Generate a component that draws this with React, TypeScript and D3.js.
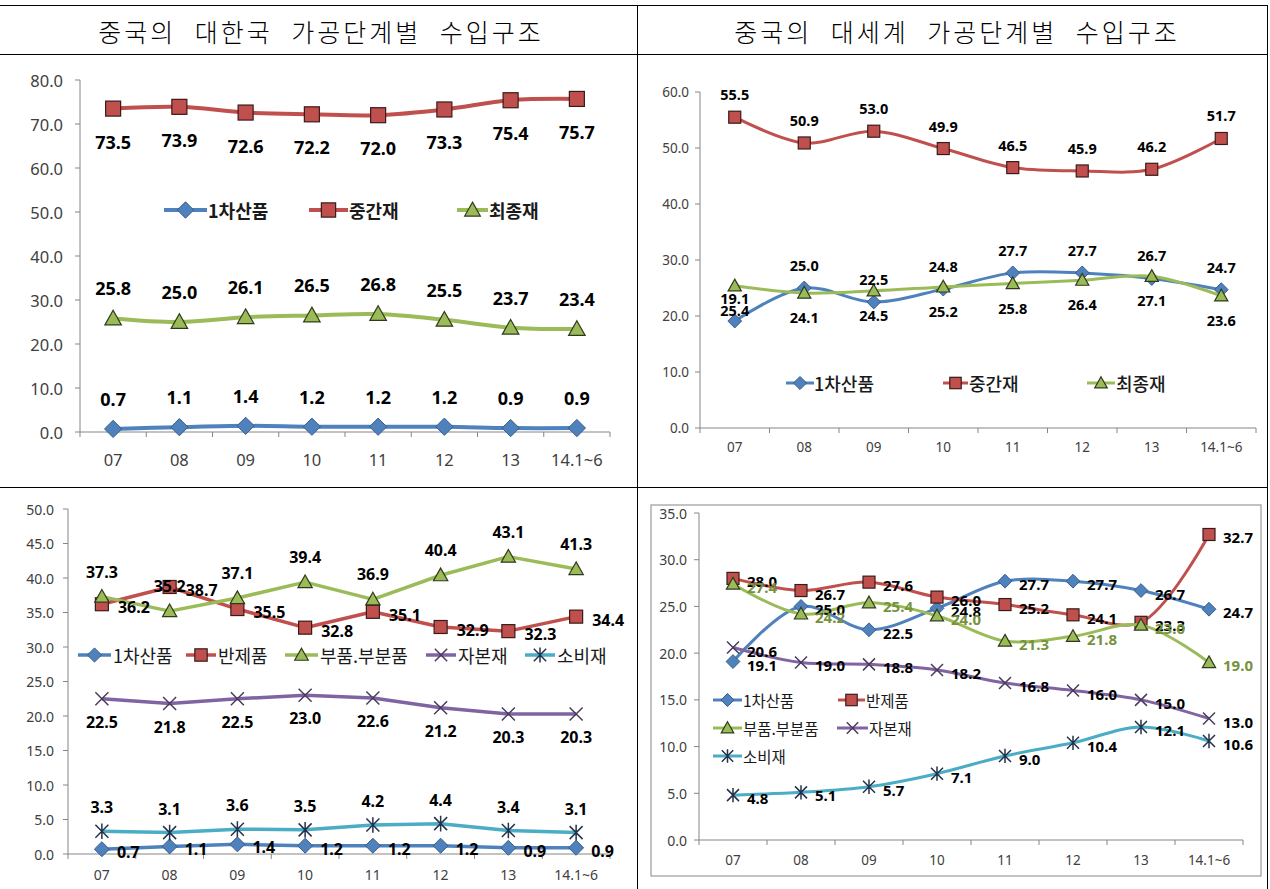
import * as d3 from 'd3'

const years = ['07', '08', '09', '10', '11', '12', '13', '14.1~6']

const titleKorea = '중국의 대한국 가공단계별 수입구조'
const titleWorld = '중국의 대세계 가공단계별 수입구조'

// 3분류: 대한국
const krPrimary = [0.7, 1.1, 1.4, 1.2, 1.2, 1.2, 0.9, 0.9]
const krIntermediate = [73.5, 73.9, 72.6, 72.2, 72.0, 73.3, 75.4, 75.7]
const krFinal = [25.8, 25.0, 26.1, 26.5, 26.8, 25.5, 23.7, 23.4]

// 3분류: 대세계
const wPrimary = [19.1, 25.0, 22.5, 24.8, 27.7, 27.7, 26.7, 24.7]
const wIntermediate = [55.5, 50.9, 53.0, 49.9, 46.5, 45.9, 46.2, 51.7]
const wFinal = [25.4, 24.1, 24.5, 25.2, 25.8, 26.4, 27.1, 23.6]

// 5분류: 대한국
const krDetPrimary = [0.7, 1.1, 1.4, 1.2, 1.2, 1.2, 0.9, 0.9]
const krSemi = [36.2, 38.7, 35.5, 32.8, 35.1, 32.9, 32.3, 34.4]
const krParts = [37.3, 35.2, 37.1, 39.4, 36.9, 40.4, 43.1, 41.3]
const krCapital = [22.5, 21.8, 22.5, 23.0, 22.6, 21.2, 20.3, 20.3]
const krConsumer = [3.3, 3.1, 3.6, 3.5, 4.2, 4.4, 3.4, 3.1]

// 5분류: 대세계
const wDetPrimary = [19.1, 25.0, 22.5, 24.8, 27.7, 27.7, 26.7, 24.7]
const wSemi = [28.0, 26.7, 27.6, 26.0, 25.2, 24.1, 23.3, 32.7]
const wParts = [27.4, 24.2, 25.4, 24.0, 21.3, 21.8, 23.0, 19.0]
const wCapital = [20.6, 19.0, 18.8, 18.2, 16.8, 16.0, 15.0, 13.0]
const wConsumer = [4.8, 5.1, 5.7, 7.1, 9.0, 10.4, 12.1, 10.6]

// y tick labels
const ticksKr3 = [0, 10, 20, 30, 40, 50, 60, 70, 80]
const ticksW3 = [0, 10, 20, 30, 40, 50, 60]
const ticksKr5 = [0, 5, 10, 15, 20, 25, 30, 35, 40, 45, 50]
const ticksW5 = [0, 5, 10, 15, 20, 25, 30, 35]

const BLUE = '#4F81BD'
const RED = '#C0504D'
const GREEN = '#9BBB59'
const PURPLE = '#8064A2'
const CYAN = '#4BACC6'
const AXIS = '#868686'

const SANS = '"Noto Sans", "Noto Sans CJK KR", sans-serif'
const KR = '"Noto Sans CJK KR", "Noto Sans", sans-serif'

type MarkerKind = 'diamond' | 'square' | 'triangle' | 'cross' | 'star'
type LabelPos = 'above' | 'below' | 'right'

interface SeriesDef {
  name: string
  values: number[]
  color: string
  edge: string
  marker: MarkerKind
  label: LabelPos
  gap: number
  labelColor?: string
}

interface LegendItem {
  x1: number
  x2: number
  tx: number
  y: number
}

interface PanelCfg {
  left: number
  right: number
  top: number
  bottom: number
  ticks: number[]
  tickFont: number
  tickGap: number
  xFont: number
  xLabelDy: number
  labelFont: number
  lineWidth: number
  markerSize: number
  smooth: boolean
  legendFont: number
  legendWeight: number
  legend: LegendItem[]
  box?: { x: number; y: number; w: number; h: number }
}

const fmt = d3.format('.1f')

function Marker({ kind, x, y, size, fill, edge }: { kind: MarkerKind; x: number; y: number; size: number; fill: string; edge: string }) {
  const h = size / 2
  switch (kind) {
    case 'diamond': {
      const r = h * 1.15
      return <path d={`M${x},${y - r}L${x + r},${y}L${x},${y + r}L${x - r},${y}Z`} fill={fill} stroke={edge} strokeWidth={1} />
    }
    case 'square':
      return <rect x={x - h} y={y - h} width={size} height={size} fill={fill} stroke={edge} strokeWidth={1.2} />
    case 'triangle':
      return <path d={`M${x},${y - h * 1.1}L${x + h * 1.1},${y + h * 0.85}L${x - h * 1.1},${y + h * 0.85}Z`} fill={fill} stroke={edge} strokeWidth={1.2} />
    case 'cross':
      return <path d={`M${x - h},${y - h}L${x + h},${y + h}M${x - h},${y + h}L${x + h},${y - h}`} stroke={edge} strokeWidth={1.5} fill="none" />
    case 'star':
      return <path d={`M${x - h},${y - h}L${x + h},${y + h}M${x - h},${y + h}L${x + h},${y - h}M${x},${y - h * 1.2}L${x},${y + h * 1.2}`} stroke={edge} strokeWidth={1.5} fill="none" />
  }
}

function Panel({ cfg, series }: { cfg: PanelCfg; series: SeriesDef[] }) {
  const x = d3.scaleBand<string>().domain(years).range([cfg.left, cfg.right])
  const y = d3
    .scaleLinear()
    .domain([0, cfg.ticks[cfg.ticks.length - 1]])
    .range([cfg.bottom, cfg.top])
  const cx = (i: number) => (x(years[i]) ?? 0) + x.bandwidth() / 2
  const line = d3
    .line<number>()
    .x((_, i) => cx(i))
    .y(v => y(v))
    .curve(cfg.smooth ? d3.curveCatmullRom.alpha(0.5) : d3.curveLinear)

  const bounds = [...years.map(c => x(c) ?? 0), cfg.right]

  return (
    <g>
      {cfg.box && (
        <rect x={cfg.box.x} y={cfg.box.y} width={cfg.box.w} height={cfg.box.h} fill="none" stroke={AXIS} strokeWidth={1} />
      )}

      {/* y axis */}
      <line x1={cfg.left} x2={cfg.left} y1={cfg.top} y2={cfg.bottom} stroke={AXIS} />
      {cfg.ticks.map(t => (
        <g key={t}>
          <line x1={cfg.left - 5} x2={cfg.left} y1={y(t)} y2={y(t)} stroke={AXIS} />
          <text
            x={cfg.left - cfg.tickGap}
            y={y(t)}
            textAnchor="end"
            dominantBaseline="central"
            fontFamily={SANS}
            fontSize={cfg.tickFont}
            fill="#404040"
          >
            {fmt(t)}
          </text>
        </g>
      ))}

      {/* x axis */}
      <line x1={cfg.left} x2={cfg.right} y1={cfg.bottom} y2={cfg.bottom} stroke={AXIS} />
      {bounds.map((b, i) => (
        <line key={i} x1={b} x2={b} y1={cfg.bottom} y2={cfg.bottom + 5} stroke={AXIS} />
      ))}
      {years.map((c, i) => (
        <text
          key={c}
          x={cx(i)}
          y={cfg.bottom + cfg.xLabelDy}
          textAnchor="middle"
          dominantBaseline="central"
          fontFamily={SANS}
          fontSize={cfg.xFont}
          fill="#404040"
        >
          {c}
        </text>
      ))}

      {/* series */}
      {series.map(s => (
        <g key={s.name}>
          <path d={line(s.values) ?? ''} fill="none" stroke={s.color} strokeWidth={cfg.lineWidth} strokeLinejoin="round" />
          {s.values.map((v, i) => (
            <Marker key={i} kind={s.marker} x={cx(i)} y={y(v)} size={cfg.markerSize} fill={s.color} edge={s.edge} />
          ))}
        </g>
      ))}

      {/* legend */}
      {cfg.legend.map((l, k) => {
        const s = series[k]
        return (
          <g key={s.name}>
            <line x1={l.x1} x2={l.x2} y1={l.y} y2={l.y} stroke={s.color} strokeWidth={cfg.lineWidth} />
            <Marker kind={s.marker} x={(l.x1 + l.x2) / 2} y={l.y} size={cfg.markerSize * 0.95} fill={s.color} edge={s.edge} />
            <text
              x={l.tx}
              y={l.y}
              dominantBaseline="central"
              fontFamily={KR}
              fontSize={cfg.legendFont}
              fontWeight={cfg.legendWeight}
              fill="#1a1a1a"
            >
              {s.name}
            </text>
          </g>
        )
      })}

      {/* data labels */}
      {series.map(s =>
        s.values.map((v, i) => {
          const px = cx(i)
          const py = y(v)
          const lx = s.label === 'right' ? px + s.gap : px
          const ly = s.label === 'above' ? py - s.gap : s.label === 'below' ? py + s.gap : py + 3
          return (
            <text
              key={`${s.name}-${i}`}
              x={lx}
              y={ly}
              textAnchor={s.label === 'right' ? 'start' : 'middle'}
              dominantBaseline="central"
              fontFamily={SANS}
              fontSize={cfg.labelFont}
              fontWeight="bold"
              fill={s.labelColor ?? '#000'}
            >
              {fmt(v)}
            </text>
          )
        })
      )}
    </g>
  )
}

const cfgKr3: PanelCfg = {
  left: 80, right: 610, top: 80, bottom: 432,
  ticks: ticksKr3, tickFont: 16.5, tickGap: 17, xFont: 16.5, xLabelDy: 27,
  labelFont: 18, lineWidth: 4, markerSize: 15, smooth: true,
  legendFont: 18, legendWeight: 700,
  legend: [
    { x1: 164, x2: 207, tx: 208, y: 210 },
    { x1: 309, x2: 348, tx: 349, y: 210 },
    { x1: 457, x2: 488, tx: 489, y: 210 },
  ],
}

const cfgW3: PanelCfg = {
  left: 700, right: 1256, top: 92, bottom: 428,
  ticks: ticksW3, tickFont: 13.5, tickGap: 11, xFont: 13.5, xLabelDy: 19,
  labelFont: 14.5, lineWidth: 3, markerSize: 12, smooth: true,
  legendFont: 18, legendWeight: 500,
  legend: [
    { x1: 786, x2: 814, tx: 814, y: 383 },
    { x1: 943, x2: 968, tx: 969, y: 383 },
    { x1: 1087, x2: 1115, tx: 1116, y: 383 },
  ],
}

const cfgKr5: PanelCfg = {
  left: 68, right: 610, top: 509, bottom: 854,
  ticks: ticksKr5, tickFont: 14, tickGap: 14, xFont: 14, xLabelDy: 20,
  labelFont: 16, lineWidth: 3.5, markerSize: 13, smooth: false,
  legendFont: 18, legendWeight: 400,
  legend: [
    { x1: 78, x2: 111, tx: 113, y: 655 },
    { x1: 186, x2: 216, tx: 218, y: 655 },
    { x1: 285, x2: 318, tx: 320, y: 655 },
    { x1: 426, x2: 456, tx: 458, y: 655 },
    { x1: 525, x2: 555, tx: 557, y: 655 },
  ],
}

const cfgW5: PanelCfg = {
  left: 699, right: 1243, top: 513, bottom: 840,
  ticks: ticksW5, tickFont: 14, tickGap: 12, xFont: 13.5, xLabelDy: 20,
  labelFont: 15, lineWidth: 3, markerSize: 12, smooth: true,
  legendFont: 15.5, legendWeight: 400,
  legend: [
    { x1: 713, x2: 742, tx: 743, y: 700 },
    { x1: 838, x2: 865, tx: 866, y: 700 },
    { x1: 713, x2: 742, tx: 743, y: 728 },
    { x1: 837, x2: 868, tx: 869, y: 728 },
    { x1: 713, x2: 742, tx: 743, y: 756 },
  ],
  box: { x: 651, y: 505, w: 610, h: 371 },
}

const seriesKr3: SeriesDef[] = [
  { name: '1차산품', values: krPrimary, color: BLUE, edge: '#385D8A', marker: 'diamond', label: 'above', gap: 30 },
  { name: '중간재', values: krIntermediate, color: RED, edge: '#3a1a1a', marker: 'square', label: 'below', gap: 33 },
  { name: '최종재', values: krFinal, color: GREEN, edge: '#2f3a1a', marker: 'triangle', label: 'above', gap: 30 },
]

const seriesW3: SeriesDef[] = [
  { name: '1차산품', values: wPrimary, color: BLUE, edge: '#385D8A', marker: 'diamond', label: 'above', gap: 23 },
  { name: '중간재', values: wIntermediate, color: RED, edge: '#3a1a1a', marker: 'square', label: 'above', gap: 23 },
  { name: '최종재', values: wFinal, color: GREEN, edge: '#2f3a1a', marker: 'triangle', label: 'below', gap: 24 },
]

const seriesKr5: SeriesDef[] = [
  { name: '1차산품', values: krDetPrimary, color: BLUE, edge: '#385D8A', marker: 'diamond', label: 'right', gap: 15 },
  { name: '반제품', values: krSemi, color: RED, edge: '#3a1a1a', marker: 'square', label: 'right', gap: 16 },
  { name: '부품.부분품', values: krParts, color: GREEN, edge: '#2f3a1a', marker: 'triangle', label: 'above', gap: 25 },
  { name: '자본재', values: krCapital, color: PURPLE, edge: '#4a3a5c', marker: 'cross', label: 'below', gap: 23 },
  { name: '소비재', values: krConsumer, color: CYAN, edge: '#23324a', marker: 'star', label: 'above', gap: 24 },
]

const seriesW5: SeriesDef[] = [
  { name: '1차산품', values: wDetPrimary, color: BLUE, edge: '#385D8A', marker: 'diamond', label: 'right', gap: 14 },
  { name: '반제품', values: wSemi, color: RED, edge: '#3a1a1a', marker: 'square', label: 'right', gap: 14 },
  { name: '부품.부분품', values: wParts, color: GREEN, edge: '#2f3a1a', marker: 'triangle', label: 'right', gap: 14, labelColor: '#76923C' },
  { name: '자본재', values: wCapital, color: PURPLE, edge: '#4a3a5c', marker: 'cross', label: 'right', gap: 14 },
  { name: '소비재', values: wConsumer, color: CYAN, edge: '#23324a', marker: 'star', label: 'right', gap: 14 },
]

export default function App() {
  return (
    <svg
      width={1270}
      height={889}
      style={{ position: 'absolute', left: 0, top: 0, background: '#fff' }}
    >
      {/* table frame */}
      <g stroke="#000" strokeWidth={1}>
        <line x1={0} x2={1268} y1={5.5} y2={5.5} />
        <line x1={0} x2={1268} y1={54.5} y2={54.5} />
        <line x1={0} x2={1268} y1={487.5} y2={487.5} />
        <line x1={637.5} x2={637.5} y1={5} y2={889} />
        <line x1={1267.5} x2={1267.5} y1={5} y2={889} />
      </g>
      <text x={321} y={31} textAnchor="middle" dominantBaseline="central" fontFamily={KR} fontSize={25} fontWeight={300} letterSpacing={3} wordSpacing={10}>
        {titleKorea}
      </text>
      <text x={957} y={31} textAnchor="middle" dominantBaseline="central" fontFamily={KR} fontSize={25} fontWeight={300} letterSpacing={3} wordSpacing={10}>
        {titleWorld}
      </text>

      <Panel cfg={cfgKr3} series={seriesKr3} />
      <Panel cfg={cfgW3} series={seriesW3} />
      <Panel cfg={cfgKr5} series={seriesKr5} />
      <Panel cfg={cfgW5} series={seriesW5} />
    </svg>
  )
}
